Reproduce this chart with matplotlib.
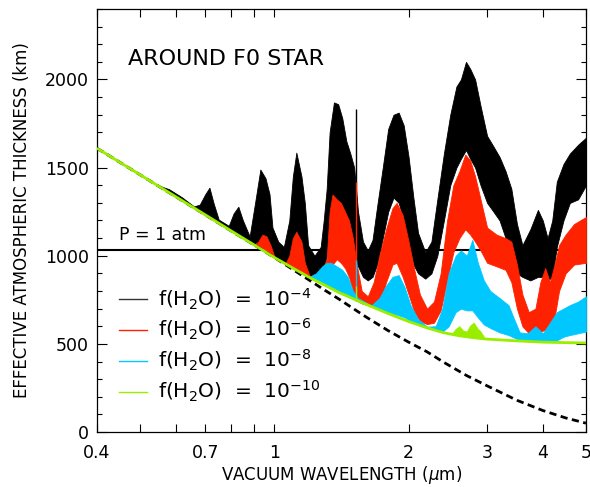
import matplotlib
matplotlib.use("Agg")
import matplotlib.pyplot as plt
from matplotlib.lines import Line2D
from matplotlib.ticker import FixedLocator, NullFormatter, FixedFormatter

# ---------------- data ----------------
# f(H2O)=1e-10 baseline (green)
green_wl = [0.4, 0.5, 0.6, 0.7, 0.8, 0.9, 1.0, 1.1, 1.2, 1.3, 1.4, 1.5, 1.6, 1.8,
            2.0, 2.2, 2.4, 2.6, 2.8, 3.0, 3.5, 4.0, 4.5, 5.0]
green_val = [1610, 1459, 1336, 1232, 1141, 1062, 990, 930, 876, 832, 790, 757, 726, 672,
             627, 591, 563, 546, 535, 527, 517, 510, 507, 505]
green_bump_wl = [2.5, 2.55, 2.6, 2.65, 2.7, 2.75, 2.8, 2.85, 2.9, 2.95]
green_bump_lo = [555, 550, 546, 543, 540, 537, 535, 533, 531, 529]
green_bump_hi = [556, 585, 600, 575, 570, 605, 620, 590, 570, 540]

# dry / no-absorption reference (dashed)
dash_wl = [0.4, 0.5, 0.6, 0.7, 0.8, 0.9, 1.0, 1.1, 1.2, 1.3, 1.4, 1.6, 1.8, 2.0, 2.2,
           2.4, 2.7, 3.0, 3.5, 4.0, 4.5, 5.0]
dash_val = [1610, 1459, 1336, 1232, 1141, 1062, 990, 922, 860, 803, 752, 655, 575, 510, 455,
            395, 320, 262, 180, 122, 80, 50]

# f(H2O)=1e-4 (black) envelope
black_wl = [0.55, 0.58, 0.62, 0.66, 0.68, 0.70, 0.715, 0.73, 0.75, 0.79, 0.81, 0.83, 0.85,
            0.88, 0.905, 0.93, 0.955, 0.975, 0.99, 1.02, 1.05, 1.08, 1.10, 1.12, 1.15,
            1.17, 1.19, 1.23, 1.27, 1.29, 1.31, 1.33, 1.36, 1.39, 1.42, 1.45, 1.48, 1.51,
            1.54, 1.58, 1.62, 1.66, 1.70, 1.75, 1.80, 1.85, 1.90, 1.95, 2.00, 2.05, 2.10,
            2.18, 2.25, 2.32, 2.40, 2.48, 2.56, 2.62, 2.69, 2.75, 2.82, 2.90, 3.00, 3.10,
            3.20, 3.30, 3.40, 3.50, 3.60, 3.75, 3.90, 4.00, 4.10, 4.20, 4.30, 4.45, 4.60,
            4.80, 5.00]
black_lo = [1395, 1360, 1315, 1273, 1252, 1232, 1218, 1204, 1185, 1150, 1132, 1116, 1100,
            1077, 1058, 1040, 1022, 1007, 997, 977, 958, 941, 930, 919, 902,
            892, 881, 865, 880, 930, 1000, 1100, 1250, 1300, 1280, 1200, 1100, 1000,
            940, 880, 860, 880, 950, 1100, 1250, 1330, 1300, 1200, 1050, 950, 900,
            870, 900, 1000, 1200, 1400, 1500, 1550, 1600, 1550, 1500, 1400, 1300, 1250,
            1200, 1100, 1000, 900, 880, 860, 880, 880, 860, 880, 1050, 1200, 1300,
            1320, 1400]
black_hi = [1398, 1378, 1332, 1280, 1290, 1350, 1386, 1300, 1205, 1170, 1240, 1278, 1200,
            1110, 1300, 1489, 1440, 1350, 1160, 1080, 1050, 1200, 1450, 1585, 1450,
            1300, 1060, 1000, 1050, 1200, 1380, 1700, 1870, 1860, 1780, 1650, 1580, 1500,
            1250, 1080, 1030, 1090, 1280, 1500, 1720, 1800, 1812, 1740, 1560, 1330, 1130,
            1020, 1080, 1320, 1580, 1800, 1960, 2000, 2100, 2060, 2000, 1850, 1680, 1620,
            1560, 1480, 1380, 1180, 1060, 1150, 1260, 1200, 1100, 1200, 1420, 1520, 1580,
            1630, 1670]

# f(H2O)=1e-6 (red) envelope
red_wl = [0.90, 0.92, 0.94, 0.96, 0.98, 1.00, 1.06, 1.08, 1.10, 1.12, 1.15, 1.17, 1.20,
          1.25, 1.29, 1.31, 1.33, 1.35, 1.38, 1.41, 1.44, 1.47, 1.50, 1.53, 1.57, 1.62,
          1.67, 1.72, 1.78, 1.84, 1.88, 1.94, 2.00, 2.06, 2.12, 2.20, 2.28, 2.36, 2.44,
          2.52, 2.60, 2.68, 2.75, 2.82, 2.90, 3.00, 3.15, 3.30, 3.40, 3.50, 3.60, 3.72,
          3.85, 3.95, 4.05, 4.15, 4.25, 4.35, 4.50, 4.70, 5.00]
red_lo = [1062, 1047, 1033, 1018, 1004, 990, 952, 941, 930, 919, 902, 892, 876,
          855, 838, 832, 860, 950, 980, 960, 930, 880, 800, 745, 730, 720,
          705, 720, 850, 950, 960, 880, 780, 680, 630, 612, 620, 690, 860,
          1020, 1100, 1150, 1120, 1080, 1030, 960, 940, 920, 850, 700, 600, 560,
          560, 570, 580, 590, 650, 800, 900, 950, 960]
red_hi = [1062, 1080, 1120, 1110, 1060, 995, 958, 1000, 1100, 1136, 1080, 960, 885,
          870, 940, 980, 1250, 1347, 1320, 1300, 1250, 1200, 1100, 950, 800, 770,
          850, 1000, 1150, 1270, 1300, 1230, 1080, 920, 780, 700, 740, 900, 1200,
          1400, 1480, 1574, 1540, 1450, 1320, 1160, 1120, 1100, 1080, 950, 780, 680,
          700, 850, 930, 850, 950, 1060, 1120, 1180, 1220]

# f(H2O)=1e-8 (cyan) envelope
cyan_wl = [1.17, 1.20, 1.24, 1.28, 1.31, 1.34, 1.38, 1.42, 1.46, 1.50, 1.54, 1.65, 1.72,
           1.78, 1.84, 1.90, 1.96, 2.02, 2.10, 2.20, 2.30, 2.38, 2.46, 2.55, 2.62, 2.70,
           2.78, 2.86, 2.95, 3.05, 3.20, 3.35, 3.45, 3.55, 3.70, 3.85, 4.00, 4.15, 4.30,
           4.45, 4.60, 4.80, 5.00]
cyan_lo = [892, 876, 858, 840, 830, 815, 800, 785, 770, 755, 742, 712, 695,
           683, 672, 662, 650, 630, 608, 590, 577, 568, 600, 680, 700, 690,
           690, 650, 610, 590, 565, 550, 535, 522, 515, 512, 510, 510, 520,
           540, 550, 560, 570]
cyan_hi = [892, 882, 900, 940, 960, 960, 940, 920, 880, 800, 760, 718, 760,
           830, 880, 890, 820, 720, 640, 598, 600, 700, 900, 1000, 1030, 1000,
           1090, 960, 860, 800, 760, 720, 640, 565, 560, 600, 560, 620, 680,
           700, 720, 740, 770]

# narrow spike seen in all spectra
spike_wl = 1.525
spike_base = [1000, 745, 742, 742]
spike_top = [1835, 1420, 977, 830]

p1atm = 1034

labels = [r'f(H$_2$O)  =  10$^{-4}$', r'f(H$_2$O)  =  10$^{-6}$',
          r'f(H$_2$O)  =  10$^{-8}$', r'f(H$_2$O)  =  10$^{-10}$']
colors = ['black', '#ff2200', '#00c8ff', '#99ee00']
legend_colors = ['#333333', '#ff2200', '#00c8ff', '#99ee00']

xticks_major = [0.4, 0.7, 1, 2, 3, 4, 5]
xtick_labels = ['0.4', '0.7', '1', '2', '3', '4', '5']
xticks_minor = [0.5, 0.6, 0.8, 0.9]

# ---------------- plot ----------------
plt.rcParams['font.family'] = ['DejaVu Sans']
plt.rcParams['mathtext.fontset'] = 'dejavusans'

fig = plt.figure(figsize=(5.9, 4.87), dpi=100)
ax = fig.add_axes([97/590, 55/487, 489/590, 423/487])

ax.axhline(p1atm, color='black', lw=1.5, zorder=2)

envs = [(black_wl, black_lo, black_hi), (red_wl, red_lo, red_hi), (cyan_wl, cyan_lo, cyan_hi)]
for i, (wl, lo, hi) in enumerate(envs):
    ax.fill_between(wl, lo, hi, color=colors[i], lw=0.6, zorder=3 + i)
    ax.vlines(spike_wl, spike_base[i], spike_top[i], color=colors[i], lw=1.0, zorder=3 + i)

ax.plot(dash_wl, dash_val, color='black', lw=2.0, ls=(0, (2.6, 1.6)), zorder=6)
ax.vlines(spike_wl, spike_base[3], spike_top[3], color=colors[3], lw=1.0, zorder=7)
ax.fill_between(green_bump_wl, green_bump_lo, green_bump_hi, color=colors[3], lw=0.6, zorder=7)
ax.plot(green_wl, green_val, color=colors[3], lw=2.0, zorder=8, solid_capstyle='butt')

ax.set_xscale('log')
ax.set_xlim(0.4, 5)
ax.set_ylim(0, 2400)
ax.xaxis.set_major_locator(FixedLocator(xticks_major))
ax.xaxis.set_major_formatter(FixedFormatter(xtick_labels))
ax.xaxis.set_minor_locator(FixedLocator(xticks_minor))
ax.xaxis.set_minor_formatter(NullFormatter())
ax.yaxis.set_major_locator(FixedLocator([0, 500, 1000, 1500, 2000]))
ax.yaxis.set_minor_locator(FixedLocator(list(range(0, 2401, 100))))

ax.tick_params(axis='x', which='both', direction='in', top=True, length=5.5, width=0.8,
               labelsize=12.5, pad=9)
ax.tick_params(axis='y', which='major', direction='in', right=True, length=7, width=0.8,
               labelsize=12.5, pad=6)
ax.tick_params(axis='y', which='minor', direction='in', right=True, length=3.6, width=0.8)
for s in ax.spines.values():
    s.set_linewidth(0.9)

ax.set_xlabel(r'VACUUM WAVELENGTH ($\mu$m)', fontsize=12, labelpad=1)
ax.set_ylabel('EFFECTIVE ATMOSPHERIC THICKNESS (km)', fontsize=12, labelpad=10)

ax.text(0.063, 0.868, 'AROUND F0 STAR', transform=ax.transAxes, fontsize=16,
        ha='left', va='baseline')
ax.text(0.045, 0.454, 'P = 1 atm', transform=ax.transAxes, fontsize=12.5,
        ha='left', va='baseline')

handles = [Line2D([], [], color=c, lw=1.0) for c in legend_colors]
ax.legend(handles, labels, loc='center left', bbox_to_anchor=(0.045, 0.205),
          frameon=False, fontsize=14.5, handlelength=1.4, handletextpad=0.55,
          labelspacing=0.28, borderpad=0, borderaxespad=0)

fig.savefig('out.png', dpi=100)
